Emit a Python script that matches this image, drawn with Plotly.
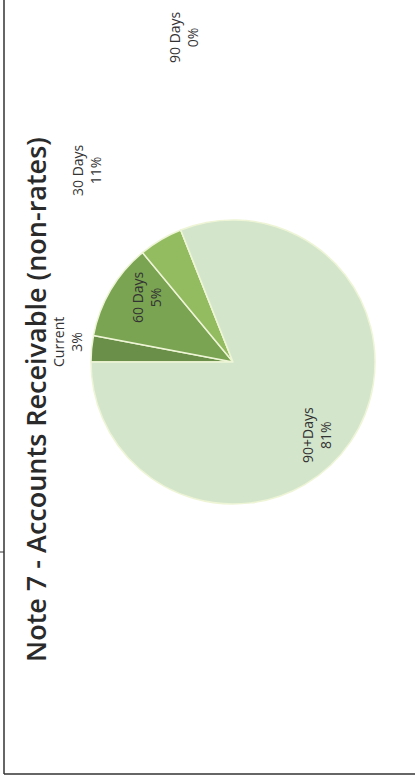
import plotly.graph_objects as go

# ---- data ----
categories = ["Current", "30 Days", "60 Days", "90 Days", "90+Days"]
shares = [3, 11, 5, 0.001, 81]
label_pct = ["3%", "11%", "5%", "0%", "81%"]
slice_colors = ["#6a8f48", "#7aa452", "#93bb60", "#a9c97f", "#d3e5cb"]

title_text = "Note 7 - Accounts Receivable (non-rates)"

# label anchor positions (pixels in the 415x778 page), same order as categories
label_px = [(67, 342), (86, 170), (147, 297), (184, 37), (316, 435)]

W, H = 415, 778
cx, cy, r = 233, 362, 142

fig = go.Figure()
fig.add_trace(go.Pie(
    labels=categories,
    values=shares,
    sort=False,
    direction="clockwise",
    rotation=270,
    marker=dict(colors=slice_colors, line=dict(color="#eef5d6", width=1.5)),
    textinfo="none",
    hoverinfo="label+percent",
    showlegend=False,
    domain=dict(x=[(cx - r) / W, (cx + r) / W], y=[1 - (cy + r) / H, 1 - (cy - r) / H]),
))

annotations = []
for name, pct, (px, py) in zip(categories, label_pct, label_px):
    annotations.append(dict(
        x=px / W, y=1 - py / H, xref="paper", yref="paper",
        text=f"{name}<br>{pct}", showarrow=False, textangle=-90,
        font=dict(family="Open Sans", size=14, color="#333333"),
        align="center", xanchor="center", yanchor="middle",
    ))
annotations.append(dict(
    x=35 / W, y=1 - 400 / H, xref="paper", yref="paper",
    text=title_text, showarrow=False, textangle=-90,
    font=dict(family="Open Sans", size=27, color="#2a2a2a", weight=600),
    xanchor="center", yanchor="middle",
))

shapes = [
    dict(type="line", xref="paper", yref="paper", x0=4 / W, x1=4 / W, y0=1 - 774 / H, y1=1,
         line=dict(color="#333333", width=1.5)),
    dict(type="line", xref="paper", yref="paper", x0=4 / W, x1=1, y0=1 - 774 / H, y1=1 - 774 / H,
         line=dict(color="#333333", width=1.5)),
    dict(type="line", xref="paper", yref="paper", x0=0, x1=4 / W, y0=1 - 552 / H, y1=1 - 552 / H,
         line=dict(color="#333333", width=1)),
]

fig.update_layout(
    width=W, height=H,
    margin=dict(l=0, r=0, t=0, b=0),
    paper_bgcolor="white", plot_bgcolor="white",
    annotations=annotations, shapes=shapes,
)

fig.write_html("out.html")
